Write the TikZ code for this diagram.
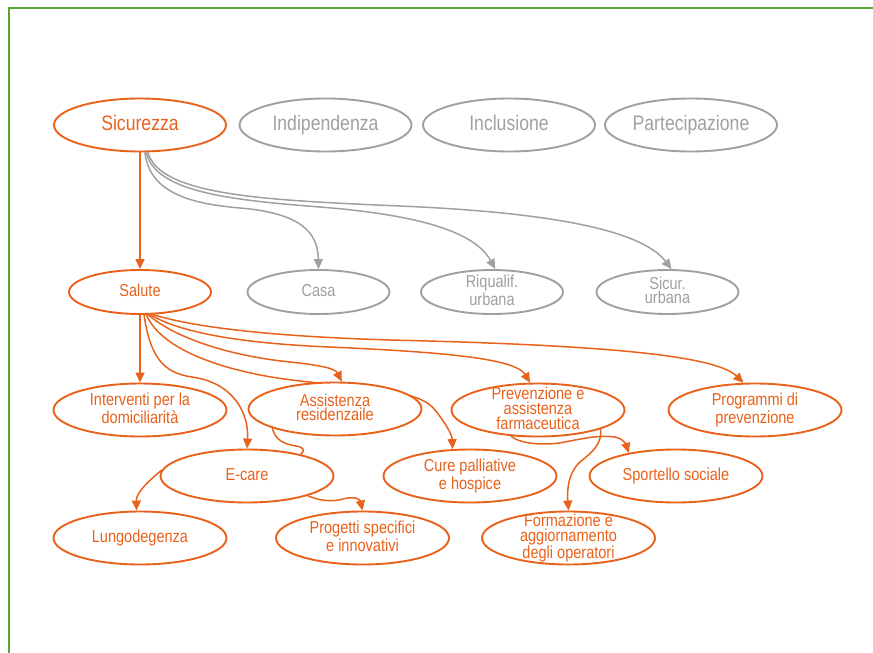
\documentclass[tikz,border=0pt]{standalone}
\usepackage{fontspec}
\setmainfont{Liberation Sans}[FakeStretch=0.84]
\usetikzlibrary{arrows.meta,shapes.geometric}
\definecolor{orng}{RGB}{233,98,28}
\definecolor{grey}{RGB}{160,160,160}
\definecolor{framegreen}{RGB}{85,170,45}
\pgfdeclarelayer{bg}
\pgfsetlayers{bg,main}
\begin{document}
\begin{tikzpicture}[x=1pt,y=-1pt,
  oval/.style={ellipse, draw, fill=white, line width=1.9pt, inner sep=0pt},
  big/.style={oval, minimum width=172pt, minimum height=53pt},
  mid/.style={oval, minimum width=142pt, minimum height=44pt},
  low/.style={oval, minimum width=173pt, minimum height=53pt},
  on/.style={draw=orng},
  off/.style={draw=grey},
  ttop/.style={inner sep=0pt, align=center, font=\fontsize{21}{23}\selectfont,
    execute at end node=\vphantom{p}},
  tsm/.style={inner sep=0pt, align=center, font=\fontsize{17.3}{14.6}\selectfont,
    execute at end node=\vphantom{p}},
  link/.style={line width=1.5pt},
  arr/.style={link, -{Triangle[length=10pt,width=9pt]}},
]
\useasboundingbox (0,0) rectangle (873,653);
\draw[framegreen, line width=1.2pt] (9,653) -- (9,8) -- (873,8);

% first level
\node[big,on, label={[ttop,text=orng]center:Sicurezza}]      (sic)  at (140,125)   {};
\node[big,off,label={[ttop,text=grey]center:Indipendenza}]   (ind)  at (325.5,125) {};
\node[big,off,label={[ttop,text=grey]center:Inclusione}]     (incl) at (509,125)   {};
\node[big,off,label={[ttop,text=grey]center:Partecipazione}] (part) at (691,125)   {};

% second level
\node[mid,on, label={[tsm,text=orng]center:Salute}]            (sal)   at (140,292)   {};
\node[mid,off,label={[tsm,text=grey]center:Casa}]              (casa)  at (318.5,292) {};
\node[mid,off,label={[tsm,text=grey]center:Riqualif.\\urbana}] (riq)   at (492,292)   {};
\node[mid,off,label={[tsm,text=grey]center:Sicur.\\urbana}]    (sicur) at (667.5,292) {};

% third level
\node[low,on,label={[tsm,text=orng]center:Interventi per la\\domiciliarità}]          (int)   at (140,410)   {};
\node[low,on,label={[tsm,text=orng]center:Assistenza\\residenzaile}]                  (ass)   at (335,409)   {};
\node[low,on,label={[tsm,text=orng]center:Prevenzione e\\assistenza\\farmaceutica}]   (prev)  at (538,410)   {};
\node[low,on,label={[tsm,text=orng]center:Programmi di\\prevenzione}]                 (prog)  at (755,410)   {};
\node[low,on,label={[tsm,text=orng]center:E-care}]                                    (ecare) at (247,476)   {};
\node[low,on,label={[tsm,text=orng]center:Cure palliative\\e hospice}]                (cure)  at (470,476)   {};
\node[low,on,label={[tsm,text=orng]center:Sportello sociale}]                         (sport) at (676,476)   {};
\node[low,on,label={[tsm,text=orng]center:Lungodegenza}]                              (lung)  at (140,538)   {};
\node[low,on,label={[tsm,text=orng]center:Progetti specifici\\e innovativi}]          (proj)  at (362.5,538) {};
\node[low,on,label={[tsm,text=orng]center:Formazione e\\aggiornamento\\degli operatori}] (form) at (568.5,538) {};

\begin{pgfonlayer}{bg}
  % from Sicurezza
  \draw[arr,orng] (sic.south) -- (sal.north);
  \draw[arr,grey] (sic.-80) .. controls (150,195) and (195,204) .. (240,208)
                  .. controls (300,213) and (318,232) .. (casa.north);
  \draw[arr,grey] (sic.-77) .. controls (155,192) and (230,200) .. (320,207)
                  .. controls (420,215) and (475,232) .. (riq.82);
  \draw[arr,grey] (sic.-74) .. controls (160,195) and (260,200) .. (400,206)
                  .. controls (540,212) and (640,228) .. (sicur.80);

  % from Salute
  \draw[arr,orng] (sal.south) -- (int.north);
  \draw[arr,orng] (sal.-80) .. controls (150,355) and (162,373) .. (192,377)
                  .. controls (235,383) and (249,415) .. (ecare.north);
  \draw[arr,orng] (sal.-74) .. controls (160,348) and (220,372) .. (300,381)
                  .. controls (370,389) and (420,390) .. (435,410)
                  .. controls (447,425) and (452,435) .. (cure.123);
  \draw[arr,orng] (sal.-70) .. controls (175,338) and (230,356) .. (290,362)
                  .. controls (318,365) and (335,368) .. (ass.76);
  \draw[arr,orng] (sal.-65) .. controls (175,330) and (230,343) .. (330,347)
                  .. controls (440,352) and (515,358) .. (prev.106);
  \draw[arr,orng] (sal.-60) .. controls (190,326) and (260,336) .. (390,340)
                  .. controls (600,345) and (715,355) .. (prog.113);

  % lower links
  \draw[link,orng] (ass.-163) .. controls (275,440) and (284,444) .. (296,446)
                   .. controls (303,447) and (306,450) .. (ecare.22);
  \draw[arr,orng] (ecare.-18) .. controls (320,501) and (332,502) .. (343,499)
                  .. controls (354,496) and (360,499) .. (proj.north);
  \draw[arr,orng] (ecare.176) .. controls (150,480) and (136,492) .. (lung.97);
  \draw[arr,orng] (prev.-136) .. controls (520,444) and (545,446) .. (565,442)
                  .. controls (585,438) and (600,435) .. (615,437)
                  .. controls (622,438) and (626,444) .. (sport.154);
  \draw[arr,orng] (prev.-17) .. controls (602,445) and (592,452) .. (580,462)
                  .. controls (568,473) and (567,490) .. (form.north);
\end{pgfonlayer}
\end{tikzpicture}
\end{document}
